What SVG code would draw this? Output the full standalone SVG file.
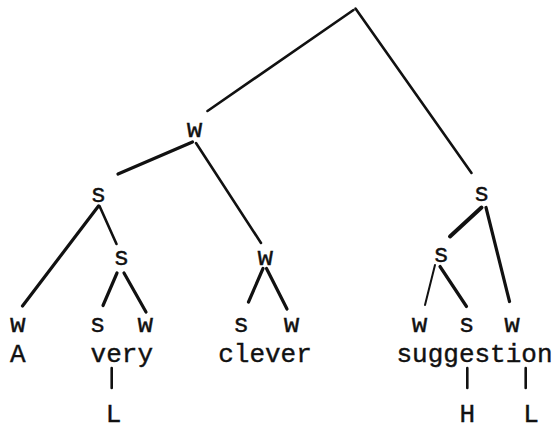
<svg xmlns="http://www.w3.org/2000/svg" width="556" height="430" viewBox="0 0 556 430">
<style>
text{font-family:"Liberation Mono","DejaVu Sans Mono",monospace;font-size:26px;fill:#111;text-anchor:middle;stroke:#111;stroke-width:0.4}
.e{stroke:#111;stroke-width:2.6;stroke-linecap:round;fill:none}
.t{stroke-width:3.2}
</style>
<rect width="556" height="430" fill="#fff"/>
<g id="connectors">
<line class="e" x1="353.5" y1="10" x2="207.5" y2="111"/>
<line class="e" x1="355.5" y1="8.5" x2="471.5" y2="173"/>
<line class="e t" x1="192.5" y1="142" x2="118" y2="174"/>
<line class="e" x1="196" y1="143" x2="261" y2="243"/>
<line class="e t" x1="98.5" y1="206" x2="22.5" y2="306"/>
<line class="e" x1="99.5" y1="206" x2="116.5" y2="244"/>
<line class="e t" x1="117" y1="273" x2="103" y2="305.5"/>
<line class="e t" x1="124" y1="273" x2="146" y2="312"/>
<line class="e t" x1="263" y1="268.5" x2="248.5" y2="302"/>
<line class="e t" x1="266.5" y1="268.5" x2="287" y2="309"/>
<line class="e t" x1="481.5" y1="207.5" x2="450" y2="236.5" style="stroke-width:4"/>
<line class="e t" x1="486" y1="207.5" x2="509.5" y2="301.5"/>
<line class="e" x1="435" y1="265" x2="425" y2="305" style="stroke-width:2"/>
<line class="e t" x1="440" y1="266.5" x2="466.5" y2="306.5"/>
<line class="e" x1="111.7" y1="368" x2="111.7" y2="388"/>
<line class="e" x1="467.3" y1="368" x2="467.3" y2="388"/>
<line class="e" x1="525.7" y1="368" x2="525.7" y2="388"/>
</g>
<g id="n-w1"><text x="194.5" y="136.5">w</text></g>
<g id="n-s2a"><text x="98.2" y="201.5">s</text></g>
<g id="n-s2b"><text x="481.5" y="200.5">s</text></g>
<g id="n-s3a"><text x="121.3" y="265">s</text></g>
<g id="n-w3b"><text x="265.2" y="265">w</text></g>
<g id="n-s3c"><text x="441" y="262">s</text></g>
<g id="n-wA"><text x="17.7" y="331.5">w</text></g>
<g id="n-s-very"><text x="97.5" y="331.5">s</text></g>
<g id="n-w-very"><text x="145.4" y="331.5">w</text></g>
<g id="n-s-clever"><text x="241" y="331.5">s</text></g>
<g id="n-w-clever"><text x="291.5" y="331.5">w</text></g>
<g id="n-w-sugg1"><text x="419.5" y="331.5">w</text></g>
<g id="n-s-sugg"><text x="466.5" y="331.5">s</text></g>
<g id="n-w-sugg2"><text x="512" y="331.5">w</text></g>
<g id="words">
<text x="17.7" y="361.5">A</text>
<text x="121.8" y="361.5">very</text>
<text x="265" y="361.5">clever</text>
<text x="474.5" y="361.5">suggestion</text>
</g>
<g id="tones">
<text x="113.5" y="422">L</text>
<text x="467.3" y="422">H</text>
<text x="531" y="422">L</text>
</g>
</svg>
